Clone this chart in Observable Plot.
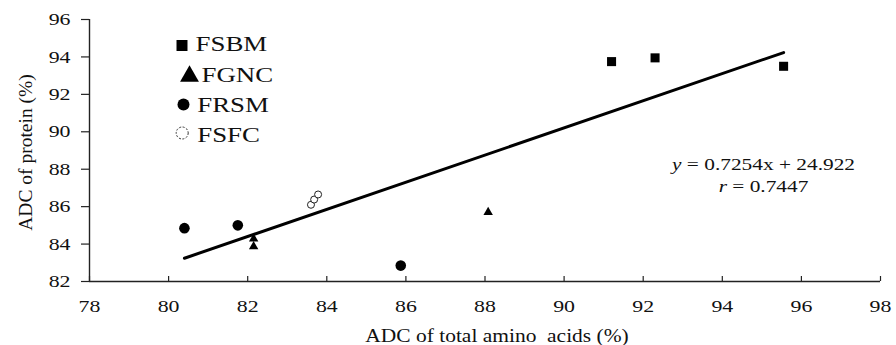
<!DOCTYPE html>
<html><head><meta charset="utf-8">
<script src="https://cdn.jsdelivr.net/npm/d3@7"></script>
<script src="https://cdn.jsdelivr.net/npm/@observablehq/plot@0.6"></script>
<style>
body{margin:0;background:#fff;}
#chart svg{display:block;}
</style></head><body><div id="chart"></div>
<script>
// ---- data ----
const seriesNames = ["FSBM", "FGNC", "FRSM", "FSFC"];
const fsbmX = [91.2, 92.3, 95.55];
const fsbmY = [93.75, 93.95, 93.5];
const fgncX = [82.15, 82.15, 88.08];
const fgncY = [84.28, 83.87, 85.7];
const frsmX = [80.4, 81.75, 85.87];
const frsmY = [84.85, 85.0, 82.85];
const fsfcX = [83.6, 83.68, 83.78];
const fsfcY = [86.1, 86.38, 86.65];
const slope = 0.7254, intercept = 24.922, rValue = 0.7447;
const xTicks = [78, 80, 82, 84, 86, 88, 90, 92, 94, 96, 98];
const yTicks = [82, 84, 86, 88, 90, 92, 94, 96];
const xTitle = "ADC of total amino\u00a0 acids (%)";
const yTitle = "ADC of protein (%)";
const eqLine1 = `y = ${slope}x + ${intercept}`;
const eqLine2 = `r = ${rValue}`;

// ---- build table ----
const seriesX = {FSBM: fsbmX, FGNC: fgncX, FRSM: frsmX, FSFC: fsfcX};
const seriesY = {FSBM: fsbmY, FGNC: fgncY, FRSM: frsmY, FSFC: fsfcY};
const rows = seriesNames.flatMap(s => seriesX[s].map((x, i) => ({series: s, x, y: seriesY[s][i]})));
const regX = d3.extent(rows, d => d.x);

// ---- styles ----
const FONT = "'Liberation Serif', 'Times New Roman', serif";
const INK = "#111";
const dotStyle = {
  FSBM: {symbol: "square", r: 5.1, fill: "#000", stroke: "none"},
  FGNC: {symbol: "triangle", r: 3.5, fill: "#000", stroke: "none"},
  FRSM: {symbol: "circle", r: 5.3, fill: "#000", stroke: "none"},
  FSFC: {symbol: "circle", r: 3.5, fill: "#fff", stroke: "#222", strokeWidth: 1}
};
const legendStyle = {
  FSBM: {symbol: "square", r: 6.2, fill: "#000", stroke: "none", sdx: 92.5, sdy: 26, tdx: 106, tdy: 24.7},
  FGNC: {symbol: "triangle", r: 7, fill: "#000", stroke: "none", sdx: 100, sdy: 56.7, tdx: 112, tdy: 55.2},
  FRSM: {symbol: "circle", r: 6, fill: "#000", stroke: "none", sdx: 94, sdy: 85, tdx: 107.7, tdy: 85.2},
  FSFC: {symbol: "circle", r: 6, fill: "#fff", stroke: "#333", strokeWidth: 1, strokeDasharray: "2,1.5", sdx: 92.7, sdy: 113.5, tdx: 107.7, tdy: 115.2}
};

const legendMarks = seriesNames.flatMap(s => {
  const st = legendStyle[s];
  return [
    Plot.dot([s], {frameAnchor: "top-left", dx: st.sdx, dy: st.sdy, symbol: st.symbol, r: st.r,
      fill: st.fill, stroke: st.stroke, strokeWidth: st.strokeWidth || 1, strokeDasharray: st.strokeDasharray}),
    Plot.text([s], {frameAnchor: "top-left", dx: st.tdx, dy: st.tdy, text: d => d, textAnchor: "start",
      lineAnchor: "middle", fontSize: 21.5, fontFamily: FONT, fill: INK, ariaDescription: "legendtext"})
  ];
});

const dotMarks = seriesNames.map(s => {
  const st = dotStyle[s];
  return Plot.dot(rows.filter(d => d.series === s), {x: "x", y: "y", symbol: st.symbol, r: st.r,
    fill: st.fill, stroke: st.stroke, strokeWidth: st.strokeWidth || 1});
});

const chart = Plot.plot({
  width: 896, height: 345,
  marginLeft: 89, marginRight: 16, marginTop: 19, marginBottom: 64,
  style: {fontFamily: FONT, background: "#fff", color: INK},
  x: {domain: [78, 98], axis: null},
  y: {domain: [82, 96], axis: null},
  marks: [
    // axes
    Plot.ruleX([78], {stroke: "#222", strokeWidth: 1.4}),
    Plot.ruleY([82], {stroke: "#222", strokeWidth: 1.4}),
    Plot.ruleX(xTicks, {x: d => d, y1: 82, y2: 82, insetTop: -5, stroke: "#222", strokeWidth: 1.2}),
    Plot.ruleY(yTicks, {y: d => d, x1: 78, x2: 78, insetLeft: -8, stroke: "#222", strokeWidth: 1.2}),
    Plot.text(xTicks, {x: d => d, frameAnchor: "bottom", dy: 25, text: d => String(d), textAnchor: "middle",
      lineAnchor: "middle", fontSize: 17.5, fontFamily: FONT, fill: INK, ariaDescription: "xticklabels"}),
    Plot.text(yTicks, {y: d => d, frameAnchor: "left", dx: -19, text: d => String(d), textAnchor: "end",
      lineAnchor: "middle", fontSize: 17.5, fontFamily: FONT, fill: INK, ariaDescription: "yticklabels"}),
    Plot.text([xTitle], {frameAnchor: "bottom", dx: 12, dy: 54, text: d => d, textAnchor: "middle",
      lineAnchor: "middle", fontSize: 19, fontFamily: FONT, fill: INK, ariaDescription: "xtitle"}),
    Plot.text([yTitle], {frameAnchor: "left", dx: -64, dy: 2, rotate: -90, text: d => d, textAnchor: "middle",
      lineAnchor: "middle", fontSize: 19.5, fontFamily: FONT, fill: INK, ariaDescription: "ytitle"}),
    // regression line
    Plot.line(regX, {x: d => d, y: d => slope * d + intercept, stroke: "#000", strokeWidth: 3}),
    // points
    ...dotMarks,
    // legend
    ...legendMarks,
    // equation
    Plot.text([eqLine1], {frameAnchor: "top-left", dx: 674, dy: 145, text: d => d, textAnchor: "middle",
      lineAnchor: "middle", fontSize: 17.5, fontFamily: FONT, fill: INK, ariaDescription: "equation"}),
    Plot.text([eqLine2], {frameAnchor: "top-left", dx: 674, dy: 167, text: d => d, textAnchor: "middle",
      lineAnchor: "middle", fontSize: 17.5, fontFamily: FONT, fill: INK, ariaDescription: "equation"})
  ]
});
document.getElementById("chart").append(chart);

function textsOf(label) {
  return chart.querySelectorAll(`[aria-description="${label}"] text, text[aria-description="${label}"]`);
}

// italic variable names in the equation
const NS = "http://www.w3.org/2000/svg";
textsOf("equation").forEach(t => {
  const s = t.textContent;
  t.textContent = "";
  const a = document.createElementNS(NS, "tspan");
  a.setAttribute("font-style", "italic");
  a.textContent = s[0];
  const b = document.createElementNS(NS, "tspan");
  b.textContent = s.slice(1);
  t.append(a, b);
});

// horizontally widen the (wide, Times-like) lettering of the reference
function stretch(label, k) {
  textsOf(label).forEach(t => {
    const tr = t.getAttribute("transform") || "";
    const xa = t.getAttribute("x");
    const x = xa && !/[a-z%]/i.test(xa) ? +xa : 0;
    if (xa && !/[a-z%]/i.test(xa)) t.removeAttribute("x");
    t.setAttribute("transform", `${tr} translate(${x},0) scale(${k},1)`);
  });
}
stretch("xticklabels", 1.25);
stretch("yticklabels", 1.25);
stretch("legendtext", 1.25);
stretch("equation", 1.22);
stretch("xtitle", 1.13);
</script></body></html>
